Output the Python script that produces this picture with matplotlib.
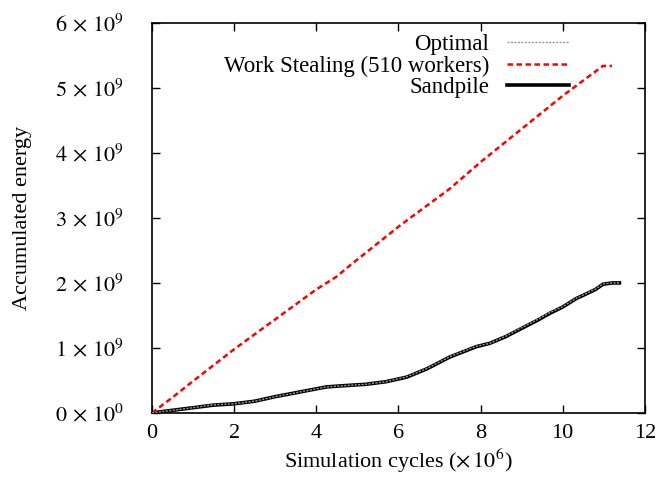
import matplotlib
matplotlib.use("Agg")
import matplotlib.pyplot as plt
from matplotlib.ticker import FuncFormatter, MultipleLocator

plt.rcParams['font.family'] = ['Liberation Serif', 'DejaVu Serif']
plt.rcParams['mathtext.fontset'] = 'stix'

# Data (x in 1e6 cycles, y in 1e9 energy units)
ws_x = [0, 0.5, 1, 2, 3, 4, 4.25, 4.5, 4.82, 6.03, 7.25, 8, 9, 10, 10.66, 10.98, 11.2]
ws_y = [0, 0.24, 0.49, 0.98, 1.44, 1.90, 2.00, 2.10, 2.27, 2.88, 3.45, 3.86, 4.37, 4.88, 5.19, 5.34, 5.34]

sp_x = [0, 0.5, 1.0, 1.5, 2.0, 2.5, 3.0, 3.5, 4.0, 4.25, 4.7, 5.2, 5.7, 6.2, 6.7, 7.25, 7.9, 8.22, 8.6, 9.03, 9.4, 9.68, 10.0, 10.33, 10.57, 10.8, 10.98, 11.2, 11.38]
sp_y = [0.0, 0.04, 0.08, 0.12, 0.14, 0.18, 0.25, 0.31, 0.37, 0.40, 0.42, 0.44, 0.48, 0.55, 0.68, 0.86, 1.02, 1.07, 1.17, 1.31, 1.43, 1.53, 1.63, 1.76, 1.83, 1.90, 1.98, 2.00, 2.00]

opt_x = sp_x
opt_y = [0.0, 0.04, 0.08, 0.125, 0.14, 0.18, 0.25, 0.31, 0.37, 0.40, 0.42, 0.44, 0.48, 0.555, 0.685, 0.865, 1.025, 1.07, 1.175, 1.32, 1.44, 1.54, 1.635, 1.765, 1.835, 1.905, 1.985, 2.00, 2.00]

fig = plt.figure(figsize=(6.58, 4.79), dpi=100)
ax = fig.add_axes([0.231, 0.138, 0.749, 0.814])

ax.plot(sp_x, sp_y, color='black', lw=2.6, label='Sandpile', zorder=2)
ax.plot(opt_x, opt_y, color='#999999', lw=1.0, ls=(0, (1.5, 1.0)), label='Optimal', zorder=3)
ax.plot(ws_x, ws_y, color='red', lw=1.8, ls=(0, (2.2, 1.4)), label='Work Stealing (510 workers)', zorder=2)

ax.set_xlim(0, 12)
ax.set_ylim(0, 6)
ax.xaxis.set_major_locator(MultipleLocator(2))
ax.yaxis.set_major_locator(MultipleLocator(1))

def yfmt(v, pos):
    n = int(round(v))
    if n == 0:
        return r'$0\,\times\,10^{0}$'
    return r'$%d\,\times\,10^{9}$' % n
ax.yaxis.set_major_formatter(FuncFormatter(yfmt))
ax.xaxis.set_major_formatter(FuncFormatter(lambda v, p: '%d' % int(round(v))))

ax.tick_params(direction='in', top=True, right=True, length=6, width=1.0, labelsize=16)
ax.tick_params(axis='y', pad=20)
ax.tick_params(axis='x', pad=8)
for s in ax.spines.values():
    s.set_linewidth(1.2)

ax.set_xlabel(r'Simulation cycles ($\times\,10^{6}$)', fontsize=16, labelpad=3)
ax.set_ylabel('Accumulated energy', fontsize=16)
ax.yaxis.set_label_coords(-0.243, 0.5)

h, l = ax.get_legend_handles_labels()
order = [1, 2, 0]
leg = ax.legend([h[i] for i in order], [l[i] for i in order], loc='upper right',
                bbox_to_anchor=(0.87, 1.0), frameon=False, markerfirst=False,
                fontsize=16.5, handlelength=2.7, labelspacing=0.0, handletextpad=0.8,
                borderaxespad=0.1)

fig.savefig('out.png', dpi=100)
